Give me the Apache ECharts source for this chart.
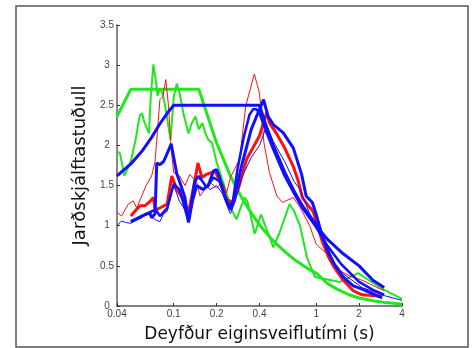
<!DOCTYPE html>
<html>
<head>
<meta charset="utf-8">
<script src="https://cdn.jsdelivr.net/npm/echarts@6/dist/echarts.min.js"></script>
<style>
  html, body { margin: 0; padding: 0; background: #fff; }
  #chart { width: 476px; height: 348px; }
</style>
</head>
<body>
<div id="chart"></div>
<script>
// ásar
var xTicks = [0.04, 0.1, 0.2, 0.4, 1, 2, 4];
var yMin = 0, yMax = 3.5, yStep = 0.5;

// hönnunarróf (græn, þykk)
var greenDesign = [[0.04,2.36],[0.05,2.7],[0.15,2.7],[0.2,2.03],[0.25,1.62],[0.3,1.35],[0.35,1.16],[0.4,1.01],[0.5,0.81],[0.6,0.68],[0.7,0.58],[0.8,0.51],[0.9,0.45],[1.0,0.41],[1.2,0.28],[1.4,0.21],[1.7,0.14],[2,0.1],[2.5,0.065],[3,0.045],[3.5,0.033],[4,0.025]];
// mælt róf (græn)
var greenRec = [[0.04,1.93],[0.042,1.9],[0.045,1.62],[0.05,1.8],[0.054,2.07],[0.057,2.32],[0.058,2.38],[0.06,2.4],[0.062,2.3],[0.067,2.15],[0.069,2.6],[0.072,3.01],[0.075,2.8],[0.077,2.62],[0.08,2.7],[0.083,2.66],[0.087,2.5],[0.095,2.07],[0.1,2.6],[0.105,2.77],[0.11,2.65],[0.117,2.4],[0.127,2.15],[0.134,2.28],[0.142,2.36],[0.15,2.2],[0.159,2.28],[0.167,2.15],[0.175,2.07],[0.186,2.03],[0.2,1.79],[0.217,1.6],[0.24,1.35],[0.255,1.2],[0.276,1.08],[0.3,1.26],[0.315,1.35],[0.33,1.3],[0.37,0.9],[0.41,1.14],[0.45,0.95],[0.5,0.73],[0.55,0.9],[0.65,1.27],[0.7,1.18],[0.77,1.0],[0.86,0.61],[0.98,0.36],[1.2,0.33],[1.47,0.3],[1.97,0.41],[2.3,0.33],[3,0.2],[4,0.09]];
// hönnunarróf (blá, þykk)
var blueDesign = [[0.04,1.62],[0.05,1.77],[0.06,1.93],[0.07,2.1],[0.08,2.27],[0.09,2.4],[0.1,2.5],[0.4,2.5],[0.45,2.22],[0.5,2.0],[0.6,1.67],[0.7,1.43],[0.8,1.25],[1.0,1.0],[1.2,0.83],[1.5,0.67],[2,0.5],[2.5,0.32],[3,0.23]];
// mæld róf (blá)
var blueRec1 = [[0.05,1.05],[0.057,1.1],[0.063,1.14],[0.068,1.16],[0.07,1.1],[0.074,1.15],[0.076,1.78],[0.08,1.76],[0.085,1.8],[0.09,1.9],[0.096,2.02],[0.1,1.85],[0.105,1.65],[0.11,1.55],[0.12,1.35],[0.127,1.04],[0.135,1.3],[0.145,1.5],[0.16,1.45],[0.175,1.5],[0.19,1.68],[0.2,1.7],[0.21,1.6],[0.23,1.35],[0.25,1.2],[0.26,1.28],[0.3,1.75],[0.35,2.2],[0.4,2.45],[0.427,2.57],[0.46,2.36],[0.5,2.26],[0.586,2.16],[0.69,1.97],[0.79,1.64],[0.85,1.37],[0.94,1.29],[1.0,1.14],[1.09,0.9],[1.2,0.69],[1.34,0.52],[1.55,0.36],[1.82,0.25],[2.1,0.21],[2.9,0.1]];
var blueRec2 = [[0.05,1.05],[0.06,1.12],[0.07,1.18],[0.075,1.2],[0.08,1.12],[0.09,1.22],[0.1,1.52],[0.11,1.45],[0.127,1.05],[0.14,1.55],[0.15,1.62],[0.17,1.48],[0.19,1.6],[0.21,1.55],[0.23,1.35],[0.245,1.25],[0.26,1.3],[0.28,1.7],[0.31,2.1],[0.34,2.38],[0.36,2.45],[0.38,2.45],[0.4,2.4],[0.45,2.15],[0.5,1.95],[0.6,1.62],[0.7,1.4],[0.8,1.22],[1.0,0.98],[1.2,0.75],[1.5,0.52],[2,0.3],[2.5,0.2],[3,0.14]];
var blueThin = [[0.04,1.0],[0.043,1.06],[0.046,1.04],[0.05,1.03],[0.055,1.07],[0.06,1.1],[0.065,1.15],[0.07,1.12],[0.075,1.07],[0.08,1.05],[0.085,1.15],[0.09,1.18],[0.095,1.35],[0.1,1.5],[0.105,1.4],[0.11,1.3],[0.12,1.2],[0.127,1.05],[0.135,1.25],[0.145,1.6],[0.16,1.55],[0.18,1.45],[0.2,1.5],[0.22,1.4],[0.24,1.22],[0.25,1.15],[0.27,1.3],[0.3,1.6],[0.35,1.85],[0.4,2.0],[0.45,2.25],[0.5,2.05],[0.6,1.8],[0.7,1.55],[0.77,1.45],[0.9,1.15],[1.05,0.98],[1.2,0.73],[1.34,0.54],[1.55,0.4],[2.1,0.23],[3,0.13],[4,0.07]];
// mæld róf (rauð)
var redThick = [[0.05,1.12],[0.054,1.19],[0.058,1.25],[0.063,1.25],[0.067,1.29],[0.072,1.35],[0.074,1.2],[0.08,1.22],[0.09,1.27],[0.097,1.62],[0.105,1.45],[0.115,1.35],[0.127,1.16],[0.14,1.54],[0.148,1.78],[0.158,1.6],[0.17,1.64],[0.195,1.68],[0.21,1.56],[0.235,1.33],[0.26,1.29],[0.285,1.47],[0.325,1.83],[0.36,1.97],[0.4,2.12],[0.45,2.41],[0.47,2.28],[0.53,2.14],[0.6,1.97],[0.69,1.74],[0.75,1.55],[0.8,1.35],[0.88,1.25],[0.95,1.18],[1.0,1.06],[1.1,0.81],[1.22,0.61],[1.34,0.48],[1.55,0.32],[1.82,0.19],[2.1,0.14],[2.9,0.12]];
var redThin = [[0.04,1.17],[0.043,1.12],[0.048,1.27],[0.052,1.31],[0.055,1.22],[0.059,1.35],[0.064,1.5],[0.07,1.62],[0.074,1.8],[0.08,2.57],[0.084,2.61],[0.088,2.82],[0.092,2.49],[0.096,1.95],[0.1,1.66],[0.11,1.62],[0.12,1.5],[0.13,1.64],[0.145,1.54],[0.153,1.37],[0.165,1.45],[0.18,1.54],[0.2,1.47],[0.22,1.54],[0.235,1.41],[0.25,1.6],[0.29,1.83],[0.32,2.49],[0.368,2.89],[0.4,2.65],[0.43,2.03],[0.47,1.66],[0.53,1.37],[0.58,1.29],[0.69,1.35],[0.77,1.23],[0.9,1.0],[1.0,0.77],[1.24,0.62],[1.45,0.44],[1.75,0.37],[2.1,0.32],[3,0.19]];

var chart = echarts.init(document.getElementById('chart'), null, { renderer: 'canvas' });

function line(data, color, width) {
    return {
        type: 'line',
        data: data,
        showSymbol: false,
        symbol: 'none',
        smooth: false,
        lineStyle: { color: color, width: width },
        silent: true
    };
}

var option = {
    animation: false,
    backgroundColor: '#fff',
    grid: { left: 117, right: 74, top: 25, bottom: 37.5 },
    graphic: [{
        type: 'rect',
        shape: { x: 16, y: 6, width: 452, height: 341 },
        style: { fill: 'none', stroke: '#555', lineWidth: 1.5 }
    }],
    xAxis: {
        type: 'log',
        logBase: 10,
        min: 0.04,
        max: 4,
        name: 'Deyfður eiginsveiflutími (s)',
        nameLocation: 'middle',
        nameGap: 20,
        nameTextStyle: { fontFamily: 'DejaVu Sans', fontSize: 17, color: '#111' },
        axisLine: { lineStyle: { color: '#555', width: 1.5 } },
        axisTick: { inside: true, length: 3, customValues: xTicks, lineStyle: { color: '#333' } },
        axisLabel: {
            customValues: xTicks,
            margin: 3,
            fontFamily: 'Liberation Sans',
            fontSize: 10,
            color: '#444',
            formatter: function (v) { return String(v); }
        },
        splitLine: { show: false }
    },
    yAxis: {
        type: 'value',
        min: yMin,
        max: yMax,
        interval: yStep,
        name: 'Jarðskjálftastuðull',
        nameLocation: 'middle',
        nameRotate: 90,
        nameGap: 24,
        nameTextStyle: { fontFamily: 'DejaVu Sans', fontSize: 18, color: '#111' },
        axisLine: { show: true, lineStyle: { color: '#888', width: 2 } },
        axisTick: { show: true, inside: true, length: 3, lineStyle: { color: '#333' } },
        axisLabel: { align: 'center', margin: 10, fontFamily: 'Liberation Sans', fontSize: 10, color: '#444' },
        splitLine: { show: false }
    },
    series: [
        line(greenRec, '#22e61e', 2),
        line(greenDesign, '#22e61e', 3),
        line(redThin, '#ff1010', 1),
        line(redThick, '#ff1010', 3),
        line(blueThin, '#1010ff', 1),
        line(blueRec2, '#1010ff', 2.5),
        line(blueRec1, '#1010ff', 3),
        line(blueDesign, '#1010ff', 3)
    ]
};

chart.setOption(option);
</script>
</body>
</html>
